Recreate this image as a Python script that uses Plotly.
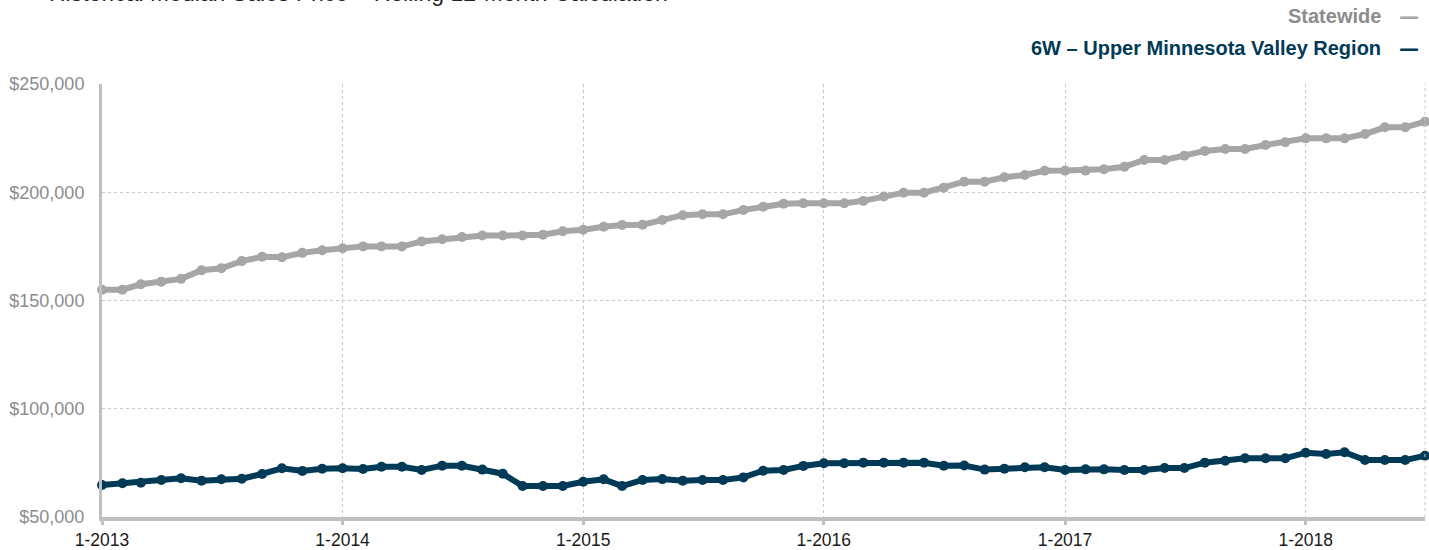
import plotly.graph_objects as go
import pandas as pd

months = pd.date_range("2013-01-01", "2018-07-01", freq="MS")

statewide = [
    155000, 155000, 157500, 158700, 160000, 164000, 164900, 168200, 170200, 170000, 172000, 173200,
    174100, 175000, 175000, 175000, 177300, 178300, 179300, 180000, 180000, 180000, 180400, 182000,
    182700, 184100, 184900, 185000, 187200, 189400, 189800, 189800, 191800, 193300, 194700, 194900,
    194900, 194900, 196000, 198000, 199800, 199800, 202100, 204900, 204900, 206900, 208000, 209900,
    210000, 210000, 210600, 211800, 214900, 214900, 216900, 219100, 220000, 220000, 221800, 223100,
    224900, 224900, 224900, 226900, 230000, 230000, 232600,
]

region = [
    64800, 65600, 65800, 67100, 67900, 66800, 67400, 67700, 69900, 72500, 71300, 72300,
    72500, 72200, 73200, 73200, 71700, 73700, 73700, 71900, 70000, 64300, 64300, 64300,
    66300, 67400, 64300, 67100, 67500, 66800, 67100, 67100, 68300, 71400, 71700, 73600,
    74800, 74800, 75100, 75100, 75100, 75100, 73700, 73800, 71900, 72300, 73000, 73000,
    71700, 72000, 72000, 71700, 71700, 72600, 72600, 75100, 76000, 77100, 77100, 77100,
    79700, 79100, 79900, 76300, 76300, 76300, 78300,
]

series_names = ["Statewide", "6W \u2013 Upper Minnesota Valley Region"]
tick_dates = ["2013-01-01", "2014-01-01", "2015-01-01", "2016-01-01", "2017-01-01", "2018-01-01"]
tick_labels = ["1-2013", "1-2014", "1-2015", "1-2016", "1-2017", "1-2018"]
y_ticks = [50000, 100000, 150000, 200000, 250000]
y_labels = ["$50,000", "$100,000", "$150,000", "$200,000", "$250,000"]
title_text = "Historical Median Sales Price \u2013 Rolling 12-Month Calculation"

GRAY = "#a6a6a6"
BLUE = "#003a57"
FONT = "Liberation Sans, Arial, sans-serif"

fig = go.Figure()
fig.add_trace(go.Scatter(
    x=months, y=statewide, mode="lines+markers", name=series_names[0],
    line=dict(color=GRAY, width=6), marker=dict(color=GRAY, size=10),
    cliponaxis=False,
))
fig.add_trace(go.Scatter(
    x=months, y=region, mode="lines+markers", name=series_names[1],
    line=dict(color=BLUE, width=6), marker=dict(color=BLUE, size=10),
    cliponaxis=False,
))

fig.update_layout(
    width=1429, height=550,
    margin=dict(l=102, r=4, t=84, b=33),
    paper_bgcolor="white", plot_bgcolor="white",
    showlegend=False,
    font=dict(family=FONT),
    xaxis=dict(
        range=[months[0], months[-1]],
        tickvals=tick_dates, ticktext=tick_labels,
        tickfont=dict(size=17.5, color="#1a1a1a"),
        showgrid=True, gridcolor="#c8c8c8", gridwidth=1, griddash="dot",
        showline=True, linecolor="#c0c0c0", linewidth=4,
        ticks="outside", ticklen=4, tickwidth=3, tickcolor="#c0c0c0",
        zeroline=False, automargin=False,
    ),
    yaxis=dict(
        range=[50000, 250000],
        tickvals=y_ticks, ticktext=y_labels,
        tickfont=dict(size=18, color="#8c8c8c"),
        showgrid=True, gridcolor="#c8c8c8", gridwidth=1, griddash="dot",
        showline=True, linecolor="#c0c0c0", linewidth=3,
        ticks="", ticklabelstandoff=11,
        zeroline=False, automargin=False,
    ),
)

# right border (dotted)
fig.add_shape(type="line", xref="paper", yref="paper", x0=1, x1=1, y0=0, y1=1,
              line=dict(color="#c8c8c8", width=1, dash="dot"))

# legend as right-aligned text with dashes
legend_colors = [("#8c8c8c", GRAY), (BLUE, BLUE)]
legend_y = [16, 48]
for name, (tc, lc), py in zip(series_names, legend_colors, legend_y):
    fig.add_annotation(
        xref="paper", yref="paper", x=(1383 - 102) / 1323, y=1 + (84 - py) / 433,
        xanchor="right", yanchor="middle", showarrow=False,
        text="<b>" + name + "</b>", font=dict(size=20, color=tc, family=FONT),
    )
    fig.add_annotation(
        xref="paper", yref="paper", x=(1397 - 102) / 1323, y=1 + (84 - py) / 433,
        xanchor="left", yanchor="middle", showarrow=False,
        text="<b>\u2014</b>", font=dict(size=20, color=lc, family="DejaVu Sans, sans-serif"),
    )

# title, mostly cut off at the top of the page as in the reference
fig.add_annotation(
    xref="paper", yref="paper", x=(47 - 102) / 1323, y=1 + (84 - 8) / 433,
    xanchor="left", yanchor="bottom", showarrow=False,
    text=title_text, font=dict(size=23, color="#222222", family=FONT),
)

fig.write_html(
    "out.html",
    config={"displayModeBar": False},
    post_script="document.body.style.margin='0';document.body.style.overflow='hidden';",
)
